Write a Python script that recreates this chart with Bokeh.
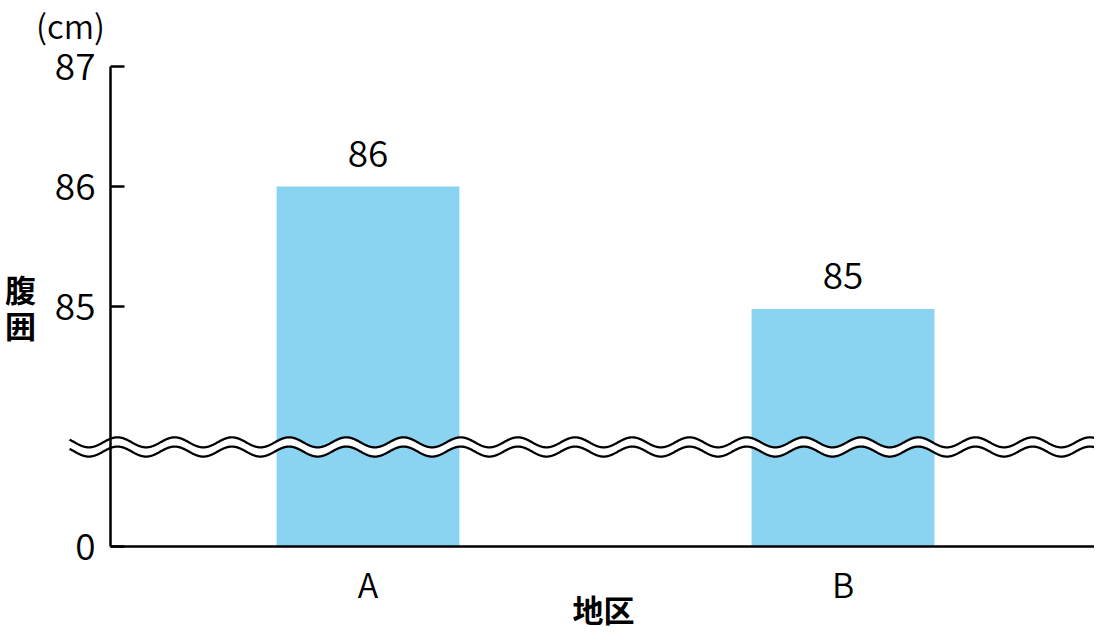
import numpy as np
from bokeh.plotting import figure
from bokeh.models import Range1d, LinearAxis, FixedTicker
from bokeh.core.properties import value
from bokeh.embed import file_html
from bokeh.resources import INLINE

# ---- data ----
categories = ["A", "B"]
waist_cm = [86.0, 84.98]
value_labels = ["86", "85"]
y_tick_values = [0, 85, 86, 87]
y_tick_labels = ["0", "85", "86", "87"]
x_title = "地区"
y_title = "腹\n囲"
unit_label = "(cm)"

# broken axis: the value 0 is drawn at display position 83
ZERO_DISPLAY = 83.0
BREAK_CENTER = 83.83


def to_display(v):
    return ZERO_DISPLAY if v == 0 else v


FONT = "Noto Sans CJK JP DemiLight, Noto Sans CJK JP Light, Noto Sans CJK JP"
BOLD_FONT = "Noto Sans CJK JP"
BAR_COLOR = "#8AD4F2"

x_idx = list(range(len(categories)))
y_disp_ticks = [to_display(v) for v in y_tick_values]

p = figure(
    width=1094, height=633,
    x_range=Range1d(-0.77368, 1.52947),
    y_range=Range1d(82.275, 87.55),
    output_backend="svg", toolbar_location=None,
    x_axis_location=None, y_axis_location=None,
    min_border=0,
)
p.outline_line_color = None
p.grid.visible = False
p.background_fill_color = "white"
p.border_fill_color = "white"

# bars
p.vbar(x=x_idx, top=waist_cm, bottom=ZERO_DISPLAY, width=0.385,
       fill_color=BAR_COLOR, line_color=None)

# break band (wavy)
xs = np.linspace(-0.6284, 1.535, 2500)
period = 0.12042
phase = -0.5274
amp = 0.0417
wave = amp * np.cos(2 * np.pi * (xs - phase) / period)
upper = BREAK_CENTER + 0.038 + wave
lower = BREAK_CENTER - 0.039 + wave
p.varea(x=xs, y1=lower, y2=upper, fill_color="white")
p.line(xs, upper, line_color="black", line_width=2.3)
p.line(xs, lower, line_color="black", line_width=2.3)

# value labels
p.text(x=x_idx, y=waist_cm, text=value_labels, text_align="center",
       text_baseline="alphabetic", y_offset=-33,
       text_font=value(FONT), text_font_size="37px", text_color="black")

# axes
yaxis = LinearAxis(
    fixed_location=-0.54211,
    ticker=FixedTicker(ticks=y_disp_ticks),
    bounds=(ZERO_DISPLAY, 87),
    major_label_overrides={d: l for d, l in zip(y_disp_ticks, y_tick_labels)},
)
yaxis.axis_line_width = 2.5
yaxis.major_tick_line_width = 2.5
yaxis.major_tick_in = 14
yaxis.major_tick_out = 0
yaxis.minor_tick_line_color = None
yaxis.major_label_standoff = 15
yaxis.major_label_text_font = FONT
yaxis.major_label_text_font_size = "37px"
yaxis.major_label_text_color = "black"
p.add_layout(yaxis, "left")

xaxis = LinearAxis(
    fixed_location=ZERO_DISPLAY,
    ticker=FixedTicker(ticks=x_idx),
    bounds=(-0.54211, 1.54),
    major_label_overrides={i: c for i, c in zip(x_idx, categories)},
)
xaxis.axis_line_width = 2.5
xaxis.major_tick_line_color = None
xaxis.minor_tick_line_color = None
xaxis.major_label_standoff = 6
xaxis.major_label_text_font = FONT
xaxis.major_label_text_font_size = "34px"
xaxis.major_label_text_color = "black"
p.add_layout(xaxis, "below")

# titles
p.text(x=[-0.6263], y=[87.35], text=[unit_label], text_align="center",
       text_baseline="middle", text_font=value(FONT), text_font_size="33px",
       text_color="black")
p.text(x=[-0.7316], y=[85.0], text=[y_title], text_align="center",
       text_baseline="middle", text_font=value(BOLD_FONT), text_font_style="bold",
       text_font_size="31px", text_line_height=0.78, text_color="black")
p.text(x=[0.4958], y=[82.48], text=[x_title], text_align="center",
       text_baseline="middle", text_font=value(BOLD_FONT), text_font_style="bold",
       text_font_size="31px", text_color="black")

open("out.html", "w").write(file_html(p, INLINE))
